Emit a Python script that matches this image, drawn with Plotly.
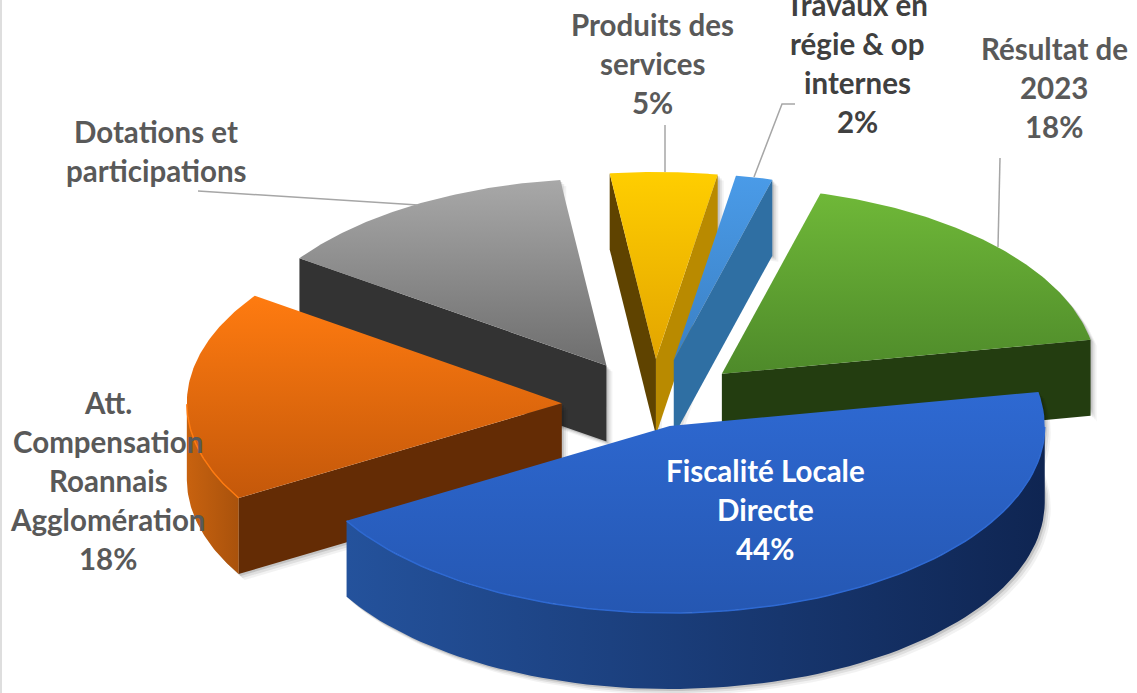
import numpy as np
import plotly.graph_objects as go

# Budget shares in percent, clockwise from the first slice; labels show them rounded
categories = ["Fiscalité Locale Directe", "Att. Compensation Roannais Agglomération",
              "Dotations et participations", "Produits des services",
              "Travaux en régie & op internes", "Résultat de 2023"]
shares = [44.45, 18.2, 13.3, 4.6, 1.6, 17.85]
explosion = [0.12, 0.246, 0.246, 0.246, 0.246, 0.246]

# Projection of the tilted pie onto the page
CX, CY = 654, 405
RX, RY = 375, 187
DEPTH = 76
FIRST_ANGLE = -10.5

# (top start, top end, radial wall at start, radial wall at end, rim left, rim right)
palette = [
    ("#2e69d2", "#2557b2", "#1d3f80", "#1d3f80", "#24529c", "#0f2552"),
    ("#ff7b10", "#c4580a", "#642c05", "#642c05", "#c8620f", "#a9520c"),
    ("#a8a8a8", "#6e6e6e", "#333333", "#333333", "#555555", "#555555"),
    ("#ffce00", "#e3a500", "#5f4300", "#b98a00", "#b98a00", "#b98a00"),
    ("#4a9be8", "#3b80c4", "#2a5e8a", "#2f6fa3", "#3579b0", "#3579b0"),
    ("#6fb838", "#4e8a2a", "#233d10", "#233d10", "#233d10", "#233d10"),
]
draw_order = [2, 3, 4, 5, 1, 0]

# Label text, one entry per drawn line, with the line block placement
label_lines = [
    ["Fiscalité Locale", "Directe"],
    ["Att.", "Compensation", "Roannais", "Agglomération"],
    ["Dotations et", "participations"],
    ["Produits des", "services"],
    ["Travaux en", "régie & op", "internes"],
    ["Résultat de", "2023"],
]
show_share = [True, True, False, True, True, True]
label_anchor = [(765, 470), (108, 402), (156, 131), (652, 24), (857, 4), (1054, 48)]
label_color = ["#ffffff", "#595959", "#595959", "#595959", "#404040", "#595959"]
LINE_STEP = 39
FONT = "Lato, Carlito, sans-serif"

leaders = [
    ([665, 665], [125, 172]),
    ([754, 782, 795], [177, 104, 104]),
    ([1000, 998], [158, 247]),
    ([198, 418], [191, 205]),
]

fig = go.Figure()


def poly(xs, ys, c0, c1, orient):
    # Vertical gradients start at the lower edge, horizontal ones at the left edge
    stops = [[0, c1], [1, c0]] if orient == "vertical" else [[0, c0], [1, c1]]
    fig.add_trace(go.Scatter(
        x=xs, y=ys, mode="lines", line=dict(width=0), fill="toself",
        fillgradient=dict(type=orient, colorscale=stops),
        hoverinfo="skip", showlegend=False))


def shadow(xs, ys):
    for off, alpha in ((6, 0.05), (4, 0.08), (2, 0.12)):
        fig.add_trace(go.Scatter(
            x=np.asarray(xs) + off, y=np.asarray(ys) + off, mode="lines", line=dict(width=0),
            fill="toself", fillcolor=f"rgba(0,0,0,{alpha})",
            hoverinfo="skip", showlegend=False))


edges = FIRST_ANGLE + np.cumsum([0] + shares) / sum(shares) * 360

for i in draw_order:
    a1, a2 = edges[i], edges[i + 1]
    mid = np.radians((a1 + a2) / 2)
    ox = CX + explosion[i] * RX * np.cos(mid)
    oy = CY + explosion[i] * RY * np.sin(mid)
    th = np.radians(np.linspace(a1, a2, 90))
    ax = ox + RX * np.cos(th)
    ay = oy + RY * np.sin(th)
    c_top, c_bot, wall1, wall2, rim_l, rim_r = palette[i]

    # Silhouette for the soft drop shadow
    sx = np.concatenate([[ox], ax, ax[::-1], [ox]])
    sy = np.concatenate([[oy], ay, ay[::-1] + DEPTH, [oy + DEPTH]])
    shadow(sx, sy)

    # Radial walls facing the viewer
    if np.sin(np.radians(a1 - 90)) > 0:
        poly([ox, ax[0], ax[0], ox, ox], [oy, ay[0], ay[0] + DEPTH, oy + DEPTH, oy], wall1, wall1, "horizontal")
    if np.sin(np.radians(a2 + 90)) > 0:
        poly([ox, ax[-1], ax[-1], ox, ox], [oy, ay[-1], ay[-1] + DEPTH, oy + DEPTH, oy], wall2, wall2, "horizontal")

    # Outer rim, only the front-facing part of the arc
    mask = np.sin(th) > 0
    if mask.any():
        rx_, ry_ = ax[mask], ay[mask]
        poly(np.r_[rx_, rx_[::-1], rx_[0]], np.r_[ry_, ry_[::-1] + DEPTH, ry_[0]], rim_l, rim_r, "horizontal")

    # Top face
    poly(np.r_[ox, ax, ox], np.r_[oy, ay, oy], c_top, c_bot, "vertical")

    # Bright bevel along the front edge of the top face
    if mask.any():
        fig.add_trace(go.Scatter(x=ax[mask], y=ay[mask], mode="lines",
                                 line=dict(color=c_top, width=1.5),
                                 hoverinfo="skip", showlegend=False))

for xs, ys in leaders:
    fig.add_trace(go.Scatter(x=xs, y=ys, mode="lines", line=dict(color="#a6a6a6", width=1.5),
                             hoverinfo="skip", showlegend=False))

annotations = []
for lines, share, show, (lx, ly), col in zip(label_lines, shares, show_share, label_anchor, label_color):
    drawn = lines + [f"{round(share)}%"] if show else lines
    for k, text in enumerate(drawn):
        annotations.append(dict(x=lx, y=ly + k * LINE_STEP, text=f"<b>{text}</b>", showarrow=False,
                                xanchor="center", yanchor="middle",
                                font=dict(family=FONT, size=29.5, color=col)))

fig.update_layout(
    width=1137, height=693, margin=dict(l=0, r=0, t=0, b=0),
    paper_bgcolor="white", plot_bgcolor="white", showlegend=False,
    xaxis=dict(range=[0, 1137], visible=False, fixedrange=True),
    yaxis=dict(range=[693, 0], visible=False, fixedrange=True),
    annotations=annotations,
    shapes=[dict(type="rect", xref="x", yref="y", x0=0, x1=2, y0=0, y1=693,
                 fillcolor="#dedede", line=dict(width=0))],
)

fig.write_html("out.html", config={"displayModeBar": False})
